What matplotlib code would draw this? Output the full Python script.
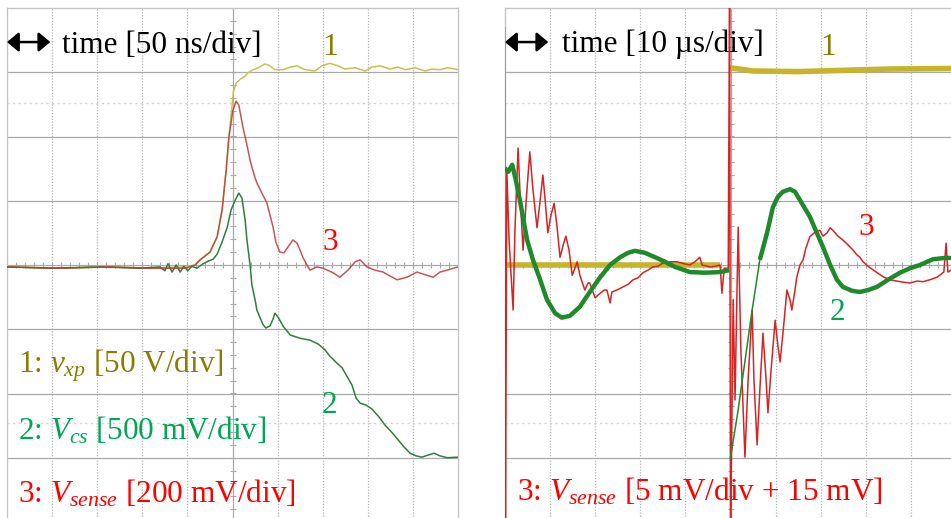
import numpy as np
import matplotlib
matplotlib.use("Agg")
import matplotlib.pyplot as plt

plt.rcParams["font.family"] = ["Liberation Serif", "DejaVu Serif"]
plt.rcParams["mathtext.fontset"] = "custom"
plt.rcParams["mathtext.rm"] = "Liberation Serif"
plt.rcParams["mathtext.it"] = "Liberation Serif:italic"

# ---- screen data, in graticule divisions (x: 0..10, y: -4..4) ----
# left screen: 50 ns/div
vxp_left_t = [0, 1.18, 2.28, 3.17, 3.95, 4.17, 4.28, 4.50, 4.66, 4.77, 4.86, 4.92, 4.98,
              5.02, 5.08, 5.17, 5.28, 5.34, 5.46, 5.57, 5.72, 5.83, 5.94, 6.12, 6.28,
              6.43, 6.61, 6.83, 6.98, 7.16, 7.34, 7.49, 7.72, 7.94, 8.09, 8.27, 8.49,
              8.67, 8.83, 9.05, 9.27, 9.42, 9.60, 9.78, 10.0]
vxp_left_v = [-0.03, -0.05, -0.03, -0.05, -0.03, 0.0, 0.08, 0.20, 0.44, 0.86, 1.48, 1.99, 2.41,
              2.70, 2.83, 2.89, 2.94, 2.99, 3.04, 3.07, 3.13, 3.10, 3.04, 3.04, 3.08,
              3.10, 3.04, 3.02, 3.10, 3.14, 3.10, 3.05, 3.07, 3.02, 3.08, 3.10, 3.05,
              3.08, 3.04, 3.07, 3.02, 3.05, 3.04, 3.07, 3.04]

vcs_left_t = [0, 0.95, 2.06, 2.95, 3.39, 3.50, 3.57, 3.66, 3.75, 3.84, 3.92, 4.01, 4.10, 4.21,
              4.35, 4.46, 4.57, 4.66, 4.77, 4.88, 4.97, 5.06, 5.14, 5.21, 5.28, 5.32, 5.39,
              5.43, 5.50, 5.54, 5.61, 5.68, 5.74, 5.83, 5.90, 5.94, 6.01, 6.12, 6.28, 6.50,
              6.72, 6.90, 7.05, 7.16, 7.32, 7.43, 7.56, 7.65, 7.74, 7.83, 7.96, 8.09, 8.23,
              8.38, 8.54, 8.67, 8.80, 8.94, 9.07, 9.20, 9.33, 9.47, 9.60, 9.76, 10.0]
vcs_left_v = [-0.03, -0.05, -0.03, -0.05, -0.03, -0.09, 0.02, -0.11, 0.0, -0.11, -0.02, -0.09,
              -0.02, -0.05, 0.02, 0.06, 0.09, 0.17, 0.36, 0.58, 0.86, 1.01, 1.12, 1.04, 0.70,
              0.39, 0.0, -0.31, -0.54, -0.70, -0.82, -0.93, -0.98, -0.95, -0.84, -0.75, -0.81,
              -0.95, -1.09, -1.14, -1.17, -1.23, -1.32, -1.42, -1.53, -1.60, -1.76, -1.87,
              -2.07, -2.15, -2.18, -2.24, -2.35, -2.49, -2.61, -2.72, -2.83, -2.93, -2.97,
              -2.99, -2.96, -2.93, -2.97, -3.00, -2.99]

vsense_left_t = [0, 1.18, 2.28, 3.17, 3.95, 4.17, 4.28, 4.50, 4.66, 4.77, 4.86, 4.92, 5.01,
                 5.08, 5.14, 5.23, 5.32, 5.39, 5.48, 5.54, 5.65, 5.76, 5.83, 5.90, 5.96,
                 6.05, 6.14, 6.25, 6.34, 6.43, 6.50, 6.56, 6.65, 6.72, 6.87, 7.01, 7.23,
                 7.38, 7.56, 7.72, 7.83, 7.98, 8.16, 8.34, 8.49, 8.65, 8.87, 9.09, 9.31,
                 9.45, 9.60, 9.76, 10.0]
vsense_left_v = [-0.03, -0.05, -0.03, -0.05, -0.05, 0.0, 0.08, 0.20, 0.44, 0.86, 1.48, 1.99,
                 2.41, 2.55, 2.49, 2.15, 1.87, 1.63, 1.40, 1.28, 1.12, 0.97, 0.78, 0.59,
                 0.36, 0.20, 0.19, 0.30, 0.39, 0.34, 0.23, 0.12, 0.0, -0.08, -0.03, -0.05,
                 -0.12, -0.19, -0.08, 0.05, 0.08, -0.03, -0.08, -0.11, -0.17, -0.23, -0.19,
                 -0.11, -0.16, -0.19, -0.11, -0.08, -0.03]

# right screen: 10 us/div
vxp_right_t = [0, 4.77, np.nan, 4.99, 5.5, 6.5, 7.5, 8.5, 10.1]
vxp_right_v = [0.0, 0.0, np.nan, 3.07, 3.02, 3.01, 3.03, 3.05, 3.06]

vcs_right_t = [0, 0.07, 0.16, 0.24, 0.33, 0.49, 0.62, 0.78, 0.93, 1.11, 1.26, 1.44, 1.66,
               1.88, 2.11, 2.33, 2.55, 2.73, 2.88, 3.10, 3.33, 3.55, 3.77, 4.10, 4.43,
               4.77, 4.97]
vcs_right_v = [1.51, 1.45, 1.56, 1.32, 1.01, 0.39, 0.08, -0.23, -0.54, -0.75, -0.82, -0.79,
               -0.65, -0.42, -0.19, 0.0, 0.12, 0.19, 0.22, 0.19, 0.12, 0.05, -0.03, -0.11,
               -0.12, -0.11, -0.08]
vcs_edge_t = [5.0, 5.16, 5.48, 5.65]
vcs_edge_v = [-3.0, -2.3, -0.70, 0.08]
vcs_after_t = [5.65, 5.81, 5.94, 6.05, 6.16, 6.32, 6.43, 6.54, 6.76, 7.05, 7.21, 7.36, 7.49,
               7.69, 7.87, 8.05, 8.25, 8.49, 8.76, 8.98, 9.20, 9.49, 9.76, 10.1]
vcs_after_v = [0.08, 0.50, 0.90, 1.06, 1.14, 1.18, 1.14, 1.01, 0.75, 0.28, 0.0, -0.23, -0.34,
               -0.40, -0.42, -0.39, -0.34, -0.23, -0.12, -0.05, 0.0, 0.09, 0.11, 0.11]

vsense_right_t = [-0.01, 0.01, 0.04, 0.09, 0.18, 0.22, 0.29, 0.33, 0.40, 0.47, 0.55, 0.62,
                  0.71, 0.78, 0.84, 0.89, 0.95, 1.02, 1.09, 1.15, 1.22, 1.29, 1.35, 1.42,
                  1.49, 1.55, 1.60, 1.66, 1.77, 1.84, 1.88, 1.95, 2.00, 2.06, 2.11, 2.20,
                  2.26, 2.33, 2.37, 2.48, 2.62, 2.73, 2.84, 2.95, 3.06, 3.17, 3.28, 3.39,
                  3.50, 3.66, 3.81, 3.97, 4.10, 4.21, 4.32, 4.37, 4.55, 4.66, 4.77, 4.81,
                  4.86, 4.95, 4.98, 5.00, 5.06, 5.10, 5.17, 5.23, 5.32, 5.39, 5.48, 5.52,
                  5.59, 5.65, 5.72, 5.79, 5.83, 5.90, 5.99, 6.05, 6.10, 6.19, 6.25, 6.32,
                  6.36, 6.43, 6.47, 6.54, 6.61, 6.67, 6.76, 6.87, 6.98, 7.05, 7.14, 7.21,
                  7.27, 7.38, 7.49, 7.61, 7.72, 7.80, 7.87, 7.94, 8.05, 8.25, 8.40, 8.54,
                  8.76, 8.98, 9.14, 9.27, 9.42, 9.58, 9.73, 9.78, 9.82, 9.89, 10.1]
vsense_right_v = [3.69, -4.3, 1.48, 0.39, -0.70, 0.54, 1.82, 1.17, 0.23, 1.01, 1.76, 1.17,
                  0.58, 1.01, 1.40, 1.01, 0.50, 0.78, 0.96, 0.62, 0.12, 0.31, 0.45, 0.23,
                  -0.16, -0.05, 0.05, -0.16, -0.39, -0.28, -0.28, -0.42, -0.51, -0.47, -0.44,
                  -0.39, -0.39, -0.59, -0.42, -0.39, -0.34, -0.30, -0.23, -0.20, -0.12, -0.08,
                  -0.03, -0.02, 0.03, 0.05, 0.05, 0.02, 0.0, 0.05, 0.12, 0.0, -0.03, -0.02,
                  0.0, -0.44, -0.05, -0.05, 4.3, -4.3, -0.54, -2.10, 0.59, -1.32, -2.99,
                  -1.79, -0.70, -1.79, -2.80, -1.95, -1.06, -1.79, -2.30, -1.63, -0.86,
                  -1.25, -1.51, -0.86, -0.39, -0.54, -0.70, -0.39, -0.19, 0.0, 0.08, 0.26,
                  0.44, 0.51, 0.54, 0.45, 0.50, 0.58, 0.54, 0.45, 0.39, 0.31, 0.23, 0.16,
                  0.12, 0.05, -0.02, -0.12, -0.19, -0.23, -0.26, -0.28, -0.25, -0.26, -0.23,
                  -0.19, -0.11, 0.34, -0.11, -0.08, -0.04]

# ---- colours ----
OLIVE_TXT = "#877d00"
GREEN_TXT = "#00a651"
RED_TXT = "#ff0000"
GRID = "#a9a9a9"

FONT = 22.5

W, H = 951, 518
fig = plt.figure(figsize=(W / 100, H / 100), dpi=100)
fig.patch.set_facecolor("white")

# each screen: 10 x 8 divisions, 45.1 px x 64.25 px per division
div_w, div_h = 45.1, 64.25
top_px = 8


def make_screen(left_px):
    ax = fig.add_axes([left_px / W, (H - (top_px + 8 * div_h)) / H,
                       10 * div_w / W, 8 * div_h / H])
    ax.set_xlim(0, 10)
    ax.set_ylim(-4, 4)
    ax.set_xticks([])
    ax.set_yticks([])
    for s in ax.spines.values():
        s.set_color("#c4c4c4")
        s.set_linewidth(1.0)
    # graticule
    for xv in range(1, 10):
        if xv == 5:
            ax.axvline(xv, color=GRID, lw=0.9, zorder=0)
        else:
            ax.axvline(xv, color="#b4b4b4", lw=0.9, ls=(0, (1, 1.3)), zorder=0)
    for yv in range(-3, 4):
        ax.axhline(yv, color=GRID, lw=0.9, zorder=0)
    # cursor lines
    for yv in (2.52, -2.46):
        ax.axhline(yv, color="#d2d2d2", lw=1.0, ls=(0, (1.5, 2.5)), zorder=0)
    # minor ticks on the centre axes
    mx = np.arange(0.2, 10, 0.2)
    ax.plot(mx, np.zeros_like(mx), ls="none", marker="|", ms=4.5, mew=0.8,
            color=GRID, zorder=0)
    my = np.arange(-3.8, 4, 0.2)
    ax.plot(np.full_like(my, 5.0), my, ls="none", marker="_", ms=4.5, mew=0.8,
            color=GRID, zorder=0)
    # time-base arrow
    ax.annotate("", xy=(0.0, 3.47), xytext=(0.96, 3.47),
                arrowprops=dict(arrowstyle="<|-|>,head_length=0.5,head_width=0.42",
                                color="black", lw=1.8, mutation_scale=14,
                                shrinkA=0, shrinkB=0),
                zorder=6)
    return ax


# ---------------- left screen ----------------
axL = make_screen(7)
axL.plot(vxp_left_t, vxp_left_v, color="#c9c24a", lw=1.1, zorder=2)
axL.plot(vcs_left_t, vcs_left_v, color="#2f7f3c", lw=1.1, zorder=3)
axL.plot(vsense_left_t, vsense_left_v, color="#bb3a3a", lw=1.1, alpha=0.85, zorder=4)

axL.text(1.22, 3.30, "time [50 ns/div]", fontsize=FONT, color="black",
         ha="left", va="baseline", zorder=7)
axL.text(7.16, 3.27, "1", fontsize=FONT, color=OLIVE_TXT, ha="center", va="baseline")
axL.text(7.16, 0.23, "3", fontsize=FONT, color=RED_TXT, ha="center", va="baseline")
axL.text(7.16, -2.30, "2", fontsize=FONT, color=GREEN_TXT, ha="center", va="baseline")
axL.text(0.24, -1.68, r"1: $v_{xp}$ [50 V/div]", fontsize=FONT, color=OLIVE_TXT,
         ha="left", va="baseline")
axL.text(0.24, -2.72, r"2: $V_{cs}$ [500 mV/div]", fontsize=FONT, color=GREEN_TXT,
         ha="left", va="baseline")
axL.text(0.24, -3.70, r"3: $V_{sense}$ [200 mV/div]", fontsize=FONT, color=RED_TXT,
         ha="left", va="baseline")

# ---------------- right screen ----------------
axR = make_screen(505)
axR.plot(vxp_right_t, vxp_right_v, color="#c6b42a", lw=4.0, zorder=2,
         solid_capstyle="butt")
axR.plot(vsense_right_t, vsense_right_v, color="#d42424", lw=1.1, zorder=3)
axR.plot(vcs_right_t, vcs_right_v, color="#1f8a2c", lw=3.2, zorder=4,
         solid_capstyle="butt")
axR.plot(vcs_edge_t, vcs_edge_v, color="#1f8a2c", lw=1.1, zorder=4)
axR.plot(vcs_after_t, vcs_after_v, color="#1f8a2c", lw=3.2, zorder=4,
         solid_capstyle="butt")

axR.text(1.26, 3.31, "time [10 µs/div]", fontsize=FONT, color="black",
         ha="left", va="baseline", zorder=7)
axR.text(7.16, 3.27, "1", fontsize=FONT, color=OLIVE_TXT, ha="center", va="baseline")
axR.text(8.0, 0.47, "3", fontsize=FONT, color=RED_TXT, ha="center", va="baseline")
axR.text(7.38, -0.86, "2", fontsize=FONT, color=GREEN_TXT, ha="center", va="baseline")
axR.text(0.27, -3.66, r"3: $V_{sense}$ [5 mV/div + 15 mV]", fontsize=FONT,
         color=RED_TXT, ha="left", va="baseline", zorder=7)

fig.savefig("out.png", dpi=100, facecolor="white")
